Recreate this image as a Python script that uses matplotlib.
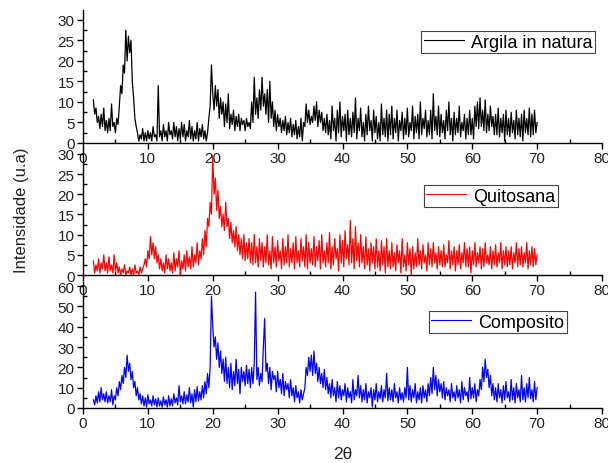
import numpy as np
import matplotlib
matplotlib.use('Agg')
import matplotlib.pyplot as plt
from matplotlib.ticker import MultipleLocator

plt.rcParams['font.family'] = ['Liberation Sans', 'DejaVu Sans']

# grade de 2theta (passo 0.2, de 1.6 a 70)
doisteta = np.round(np.arange(1.6, 70.01, 0.2), 1)

# Argila in natura
argila = [
    10.5, 7, 8.5, 5, 6.5, 3.5, 7, 4, 8.5, 3,
    5.5, 2.5, 6, 3, 9.5, 4, 5, 2.5, 6, 4.5,
    9, 14, 12, 19, 17, 27.5, 20, 26, 22, 25,
    15, 11, 6, 4, 2.5, 0.5, 2, 1, 3.5, 0.5,
    2.5, 0.5, 3, 1, 2.5, 0.5, 4, 1.5, 2, 0.5,
    14, 1.5, 3, 0.5, 4.5, 1.5, 3, 0.5, 5, 2,
    3, 1, 5, 1.5, 4, 0.5, 3.5, 1, 5, 1.5,
    4.5, 0.5, 3, 1.5, 5.5, 1, 4, 0.5, 3, 1,
    5, 0.5, 3.5, 1.5, 4.5, 1, 3, 0.5, 2.5, 6,
    9, 19, 12, 8, 14, 9, 13, 6, 11, 7,
    10, 4, 9.5, 5, 12, 3.5, 7, 4.5, 8, 3,
    6.5, 4, 7, 3, 6, 4.5, 5.5, 3, 6, 4,
    5, 3.5, 10, 5, 16, 7, 11, 6, 13, 8,
    16, 9, 12, 7, 13, 5, 15, 6, 10, 4,
    8, 3, 7, 4, 6, 2.5, 5.5, 3, 6.5, 2,
    5, 2.5, 6, 1.5, 4.5, 2, 5.5, 1, 4, 1.5,
    6, 0.5, 5, 4, 9.5, 5, 8, 4.5, 6.5, 5,
    9, 5.5, 10, 4, 8, 5, 7.5, 3, 6, 2.5,
    7, 2, 5.5, 1, 9, 3, 6, 0.5, 8, 2.5,
    10, 1.5, 6.5, 3, 7, 0.5, 8, 2, 6, 1.5,
    7.5, 2.5, 11, 1, 6, 3, 8.5, 1.5, 5, 0.5,
    7, 2, 9, 3, 5.5, 0.5, 8, 2.5, 6.5, 1,
    5, 0.5, 9.5, 2, 6, 1.5, 8, 0.5, 7, 2,
    9, 1, 6, 2.5, 8, 0.5, 5.5, 3, 7.5, 1,
    6, 2, 8.5, 1.5, 5, 3, 9, 1, 6.5, 2.5,
    7, 1, 10, 2, 6, 3.5, 8, 1.5, 5.5, 2,
    8, 1, 12, 3, 6.5, 2, 9, 1.5, 7, 2.5,
    5.5, 1, 8, 3, 10, 2, 6, 0.5, 7.5, 2,
    6, 2.5, 9, 1.5, 5, 3, 7, 1, 6, 2,
    8, 2, 6, 1, 9, 4, 10, 3.5, 11, 4,
    8, 3, 10.5, 2.5, 7, 3, 9, 4, 6.5, 2,
    7, 2, 8.5, 1.5, 6, 2.5, 7, 0.5, 8, 2,
    6, 1.5, 7.5, 2.5, 5.5, 1, 8, 2, 6, 1.5,
    7, 0.5, 8, 2.5, 6, 2, 8.5, 1.5, 7, 2,
    8, 2.5, 5,
]

# Quitosana
quitosana = [
    3.5, 0.5, 2.5, 1, 4, 0.5, 3, 1.5, 5, 1,
    3, 0.5, 4.5, 1, 2.5, 0.5, 5, 1, 3, 0.5,
    2, 0, 1.5, 0.5, 2.5, 0, 1, 0.5, 2, 0,
    1.5, 0, 2.5, 0.5, 1, 0, 2, 0.5, 1.5, 2.5,
    4, 2, 6, 4, 9.5, 5, 8, 4, 7, 3,
    5, 1.5, 4, 1, 3, 0.5, 5, 1.5, 4, 1,
    3, 0.5, 5.5, 1, 4, 2, 6, 0, 3.5, 1.5,
    5, 1, 6, 2, 4.5, 1.5, 7, 2, 5, 3,
    8, 2.5, 6, 4, 9, 5, 11, 7, 14, 12,
    18, 15, 29.5, 20, 24, 16, 21, 14, 17, 12,
    15, 11, 18, 12, 14, 9, 13, 8, 11, 7,
    12, 6, 10, 5, 9, 4, 10, 3.5, 8, 4,
    9, 3, 8, 2.5, 10, 3, 7, 2, 9, 3.5,
    8, 2, 7, 3, 10, 2.5, 6, 1.5, 9.5, 3,
    7, 2, 8.5, 3.5, 6, 1.5, 9, 2.5, 7, 3,
    10, 2, 6.5, 3, 8, 1.5, 9.5, 3, 6, 2,
    9, 3.5, 7, 2, 10, 1.5, 8, 3, 6.5, 2.5,
    9.5, 2, 7, 3.5, 8.5, 1.5, 10, 3, 6, 2,
    8, 3, 10.5, 1.5, 7, 2.5, 9, 4, 6.5, 1,
    10, 3, 8.5, 2, 11, 4, 7.5, 2.5, 13.5, 3,
    9, 1.5, 12, 3.5, 8, 2, 10, 3, 7, 1.5,
    9.5, 2.5, 6.5, 1, 8, 3, 7, 1.5, 9, 2,
    6, 1, 8.5, 2.5, 7, 0.5, 9, 2, 6, 1.5,
    8, 2, 5.5, 1, 7.5, 3, 6, 0.5, 9, 2,
    5, 1, 8, 2.5, 6.5, 0, 7, 1.5, 5.5, 2,
    9, 2.5, 6, 1.5, 7.5, 3, 5, 1, 8, 2.5,
    6.5, 2, 8, 3, 5.5, 1.5, 7, 2.5, 6, 2,
    7.5, 2, 5, 3, 8.5, 1.5, 6, 2.5, 7, 1,
    6, 2.5, 7.5, 1.5, 5.5, 3, 8, 2, 6.5, 2,
    7, 0.5, 6, 2.5, 8, 2, 5.5, 3, 7, 1.5,
    6.5, 2, 8, 3, 5, 2.5, 7, 1.5, 6, 2.5,
    7.5, 2, 5.5, 3, 8, 1.5, 6, 2.5, 7, 2,
    6, 2.5, 7, 1.5, 5.5, 3, 8, 2, 6.5, 2.5,
    7, 2, 5.5, 3, 8, 1.5, 6, 2.5, 7, 2,
    6.5, 2.5, 5,
]

# Composito
composito = [
    4, 1.5, 6, 2.5, 8, 3, 10, 4, 7, 3,
    8, 2.5, 6, 3, 9, 1.5, 6, 4, 10, 6,
    13, 9, 16, 12, 20, 15, 26, 18, 22, 14,
    18, 10, 13, 6, 10, 4, 7, 2, 6, 1,
    5, 0.5, 6.5, 2, 4, 1, 6, 1.5, 4.5, 0.5,
    5, 1, 3.5, 0.5, 5.5, 1.5, 4, 0.5, 6, 1,
    4.5, 1, 7, 2.5, 5, 1.5, 11, 3, 6, 2,
    8, 2, 6.5, 3, 10, 2.5, 7, 0.5, 9, 3,
    10.5, 3.5, 8, 4, 11, 5, 13, 7, 17, 10,
    20, 55, 40, 30, 35, 24, 32, 20, 28, 17,
    24, 13, 25, 12, 20, 10, 22, 9, 18, 11,
    24, 12, 19, 7, 20, 13, 18, 11, 21, 12,
    19, 10, 20, 12, 22, 57, 14, 20, 11, 17,
    13, 30, 44, 18, 22, 12, 20, 9, 18, 14,
    16, 8, 18, 10, 14, 7, 17, 6, 13, 9,
    12, 5, 14, 6, 10, 3, 11, 5, 8, 2.5,
    9, 4, 7, 10, 20, 16, 25, 18, 26, 16,
    28, 17, 22, 13, 20, 12, 17, 10, 19, 9,
    15, 7, 12, 5, 14, 6, 10, 3, 13, 5,
    11, 4, 9, 6, 12, 3, 10, 5, 8, 2.5,
    14, 4, 9, 6, 16, 5, 11, 3, 9, 4,
    12, 2.5, 8, 5, 10, 0.5, 9, 4, 12, 3,
    8, 4.5, 11, 3, 9, 5, 17, 3.5, 10, 4,
    9, 3, 12, 5, 8, 2.5, 10, 4, 7.5, 3,
    10, 5, 20, 4, 11, 3, 9, 5, 12, 2.5,
    8, 4, 10, 2.5, 11, 5, 9, 3, 12, 6,
    15, 7, 20, 9, 16, 6, 14, 8, 12, 5,
    13, 4, 10, 6, 9, 3, 12, 5, 8, 3.5,
    11, 5, 9, 2.5, 13, 4, 10, 6, 8, 3,
    15, 4.5, 10, 5, 12, 3, 9, 6, 14, 9,
    20, 13, 24, 15, 19, 10, 16, 6, 12, 4,
    10, 3, 12, 5, 9, 2.5, 11, 4, 13, 5,
    8, 3, 14, 4, 10, 2.5, 12, 5, 9, 3,
    16, 4, 10, 3, 12, 5, 15, 4.5, 9, 3,
    13, 4, 10,
]

nomes = ['Argila in natura', 'Quitosana', 'Composito']
cores = ['black', 'red', 'blue']
series = [argila, quitosana, composito]
ytopo = [32.4, 31.2, 62]
ypasso = [5, 5, 10]

# posicoes dos paineis em pixels (608x464)
paineis = [(11, 144), (150, 276), (283, 409)]
legendas = [(595, 32), (558, 186), (567, 312)]

fig = plt.figure(figsize=(6.08, 4.64), dpi=100)

for i in range(3):
    topo, base = paineis[i]
    ax = fig.add_axes([83 / 608, 1 - base / 464, 519 / 608, (base - topo) / 464])
    ax.patch.set_alpha(0)
    ax.plot(doisteta, series[i], color=cores[i], lw=0.9, label=nomes[i])
    ax.set_xlim(0, 80)
    ax.set_ylim(0, ytopo[i])
    ax.spines['top'].set_visible(False)
    ax.spines['right'].set_visible(False)
    ax.spines['left'].set_linewidth(1.0)
    ax.spines['bottom'].set_linewidth(1.0)
    ax.xaxis.set_major_locator(MultipleLocator(10))
    ax.xaxis.set_minor_locator(MultipleLocator(5))
    ax.yaxis.set_major_locator(MultipleLocator(ypasso[i]))
    ax.yaxis.set_minor_locator(MultipleLocator(ypasso[i] / 2))
    ax.tick_params(which='major', direction='out', length=4, width=1,
                   labelsize=11, labelcolor='#222222', pad=2)
    ax.tick_params(which='minor', direction='in', length=3, width=1)
    lx, ly = legendas[i]
    leg = ax.legend(loc='upper right', bbox_to_anchor=(lx / 608, 1 - ly / 464),
                    bbox_transform=fig.transFigure, fontsize=13, frameon=True,
                    fancybox=False, edgecolor='#444444', framealpha=1,
                    handlelength=2.2, handletextpad=0.4, borderpad=0.15,
                    borderaxespad=0)
    leg.get_frame().set_linewidth(0.8)
    leg.get_lines()[0].set_linewidth(0.8)

fig.text(0.036, 0.547, 'Intensidade (u.a)', rotation=90, ha='center',
         va='center', fontsize=12, color='#222222')
fig.text(0.564, 0.02, '2\u03b8', ha='center', va='center', fontsize=12.5,
         color='#222222')

fig.savefig('out.png', dpi=100)
